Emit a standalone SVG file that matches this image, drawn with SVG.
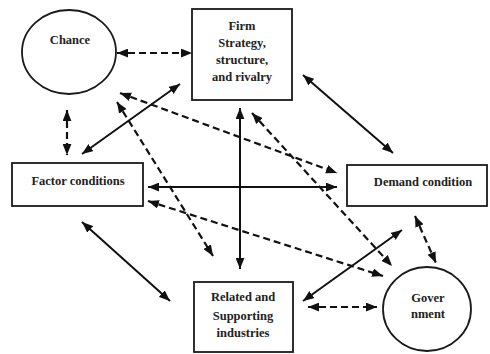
<svg xmlns="http://www.w3.org/2000/svg" width="490" height="354" viewBox="0 0 490 354">
<defs>
<marker id="ah" viewBox="0 0 10 8" refX="10" refY="4" markerWidth="11" markerHeight="9" markerUnits="userSpaceOnUse" orient="auto-start-reverse">
<path d="M0,0 L10,4 L0,8 z" fill="#111"/>
</marker>
<style>
.node{fill:#fff;stroke:#1a1a1a;stroke-width:1.8}
.t{font-family:'Liberation Serif','Times New Roman',serif;font-weight:bold;font-size:12.5px;fill:#222;text-anchor:middle}
.s{stroke:#111;stroke-width:2;fill:none;marker-start:url(#ah);marker-end:url(#ah)}
.d{stroke:#111;stroke-width:2.2;fill:none;stroke-dasharray:7 4;marker-start:url(#ah);marker-end:url(#ah)}
</style>
</defs>
<rect width="490" height="354" fill="#fff"/>
<g id="chance">
<ellipse class="node" cx="69" cy="52" rx="47" ry="42"/>
<text class="t" x="70" y="44">Chance</text>
</g>
<g id="firm">
<rect class="node" x="192" y="9" width="100" height="91"/>
<text class="t" x="242" y="30">Firm</text>
<text class="t" x="242" y="47">Strategy,</text>
<text class="t" x="242" y="64">structure,</text>
<text class="t" x="242" y="81">and rivalry</text>
</g>
<g id="factor">
<rect class="node" x="12" y="163" width="131" height="43"/>
<text class="t" x="78" y="185">Factor conditions</text>
</g>
<g id="demand">
<rect class="node" x="347" y="165" width="140" height="41"/>
<text class="t" x="423" y="186">Demand condition</text>
</g>
<g id="related">
<rect class="node" x="194" y="282" width="99" height="70"/>
<text class="t" x="243" y="301">Related and</text>
<text class="t" x="243" y="320">Supporting</text>
<text class="t" x="243" y="337">industries</text>
</g>
<g id="government">
<ellipse class="node" cx="427" cy="309" rx="44" ry="42"/>
<text class="t" x="428" y="302">Gover</text>
<text class="t" x="428" y="318">nment</text>
</g>
<g id="connectors">
<line class="d" x1="117" y1="53" x2="192" y2="53"/>
<line class="d" x1="67" y1="110" x2="67" y2="155"/>
<line class="s" x1="82" y1="154" x2="180" y2="84"/>
<line class="s" x1="303" y1="75" x2="393" y2="153"/>
<line class="s" x1="148" y1="187" x2="337" y2="187"/>
<line class="s" x1="240" y1="108" x2="240" y2="269"/>
<line class="s" x1="82" y1="222" x2="170" y2="301"/>
<line class="d" x1="308" y1="307" x2="377" y2="307"/>
<line class="s" x1="303" y1="301" x2="402" y2="230"/>
<line class="d" x1="415" y1="216" x2="436" y2="263"/>
<line class="d" x1="120" y1="93" x2="337" y2="173"/>
<line class="d" x1="117" y1="102" x2="213" y2="256"/>
<line class="d" x1="252" y1="113" x2="392" y2="266"/>
<line class="d" x1="148" y1="201" x2="383" y2="276"/>
</g>
</svg>
